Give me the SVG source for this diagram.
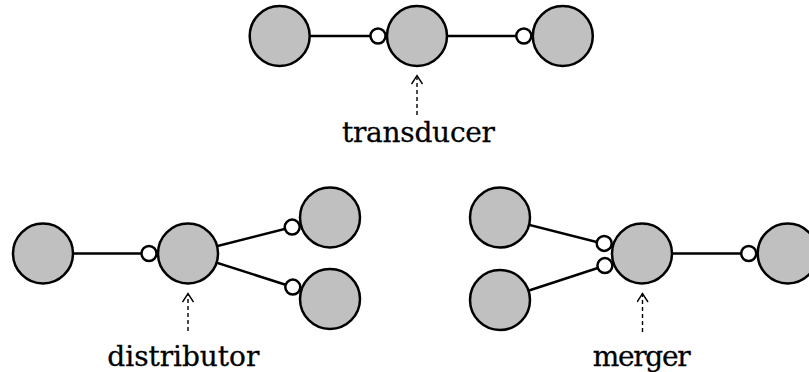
<svg xmlns="http://www.w3.org/2000/svg" width="809" height="372" viewBox="0 0 809 372">
  <defs>
    <style>
      .node { fill: #c0c0c0; stroke: #000; stroke-width: 2.5; }
      .port { fill: #fff; stroke: #000; stroke-width: 2.5; }
      .link { stroke: #000; stroke-width: 2.5; fill: none; }
      .pointer { stroke: #000; stroke-width: 1.4; stroke-dasharray: 4 3; fill: none; }
      .label { font-family: "DejaVu Serif", "Liberation Serif", serif; font-size: 28px; fill: #000; stroke: #000; stroke-width: 0.3; text-anchor: middle; }
    </style>
    <marker id="openHead" viewBox="0 0 12 12" refX="10" refY="6" markerWidth="12" markerHeight="12" markerUnits="userSpaceOnUse" orient="auto">
      <path d="M1.5,0.5 L10,6 L1.5,11.5" fill="none" stroke="#000" stroke-width="1.4" stroke-dasharray="none"/>
    </marker>
  </defs>
  <rect width="809" height="372" fill="#fff"/>

  <!-- connectors: link lines and dashed label pointers -->
  <g id="connectors">
    <line class="link" x1="279.7" y1="36" x2="417" y2="36"/>
    <line class="link" x1="417" y1="36" x2="562.8" y2="36"/>

    <line class="link" x1="43" y1="253.5" x2="188" y2="253.5"/>
    <line class="link" x1="188" y1="253.5" x2="330" y2="217.5"/>
    <line class="link" x1="188" y1="253.5" x2="330" y2="299"/>

    <line class="link" x1="500" y1="217.5" x2="642" y2="253.5"/>
    <line class="link" x1="500" y1="300" x2="642" y2="253.5"/>
    <line class="link" x1="642" y1="253.5" x2="787.7" y2="253.5"/>

    <line class="pointer" x1="417" y1="115" x2="417" y2="75.5" marker-end="url(#openHead)"/>
    <line class="pointer" x1="188" y1="331" x2="188" y2="293.5" marker-end="url(#openHead)"/>
    <line class="pointer" x1="642.5" y1="332" x2="642.5" y2="293.5" marker-end="url(#openHead)"/>
  </g>

  <!-- transducer: one input, one output -->
  <g id="transducer-in"><circle class="node" cx="279.7" cy="36" r="30"/></g>
  <g id="transducer"><circle class="node" cx="417" cy="36" r="30"/><circle class="port" cx="378" cy="36" r="7.5"/></g>
  <g id="transducer-out"><circle class="node" cx="562.8" cy="36" r="30"/><circle class="port" cx="523.8" cy="36" r="7.5"/></g>
  <text class="label" x="418.5" y="141.5" textLength="153" lengthAdjust="spacing">transducer</text>

  <!-- distributor: one input, two outputs -->
  <g id="distributor-in"><circle class="node" cx="43" cy="253.5" r="30"/></g>
  <g id="distributor"><circle class="node" cx="188" cy="253.5" r="30"/><circle class="port" cx="149" cy="253.5" r="7.5"/></g>
  <g id="distributor-out-1"><circle class="node" cx="330" cy="217.5" r="30"/><circle class="port" cx="292.2" cy="227.1" r="7.5"/></g>
  <g id="distributor-out-2"><circle class="node" cx="330" cy="299" r="30"/><circle class="port" cx="292.8" cy="287.1" r="7.5"/></g>
  <text class="label" x="183.3" y="366" textLength="152" lengthAdjust="spacing">distributor</text>

  <!-- merger: two inputs, one output -->
  <g id="merger-in-1"><circle class="node" cx="500" cy="217.5" r="30"/></g>
  <g id="merger-in-2"><circle class="node" cx="500" cy="300" r="30"/></g>
  <g id="merger"><circle class="node" cx="642" cy="253.5" r="30"/><circle class="port" cx="604.2" cy="243.4" r="7.5"/><circle class="port" cx="604.9" cy="265.6" r="7.5"/></g>
  <g id="merger-out"><circle class="node" cx="787.7" cy="253.5" r="30"/><circle class="port" cx="748.7" cy="253.5" r="7.5"/></g>
  <text class="label" x="641.7" y="366" textLength="98" lengthAdjust="spacing">merger</text>
</svg>
